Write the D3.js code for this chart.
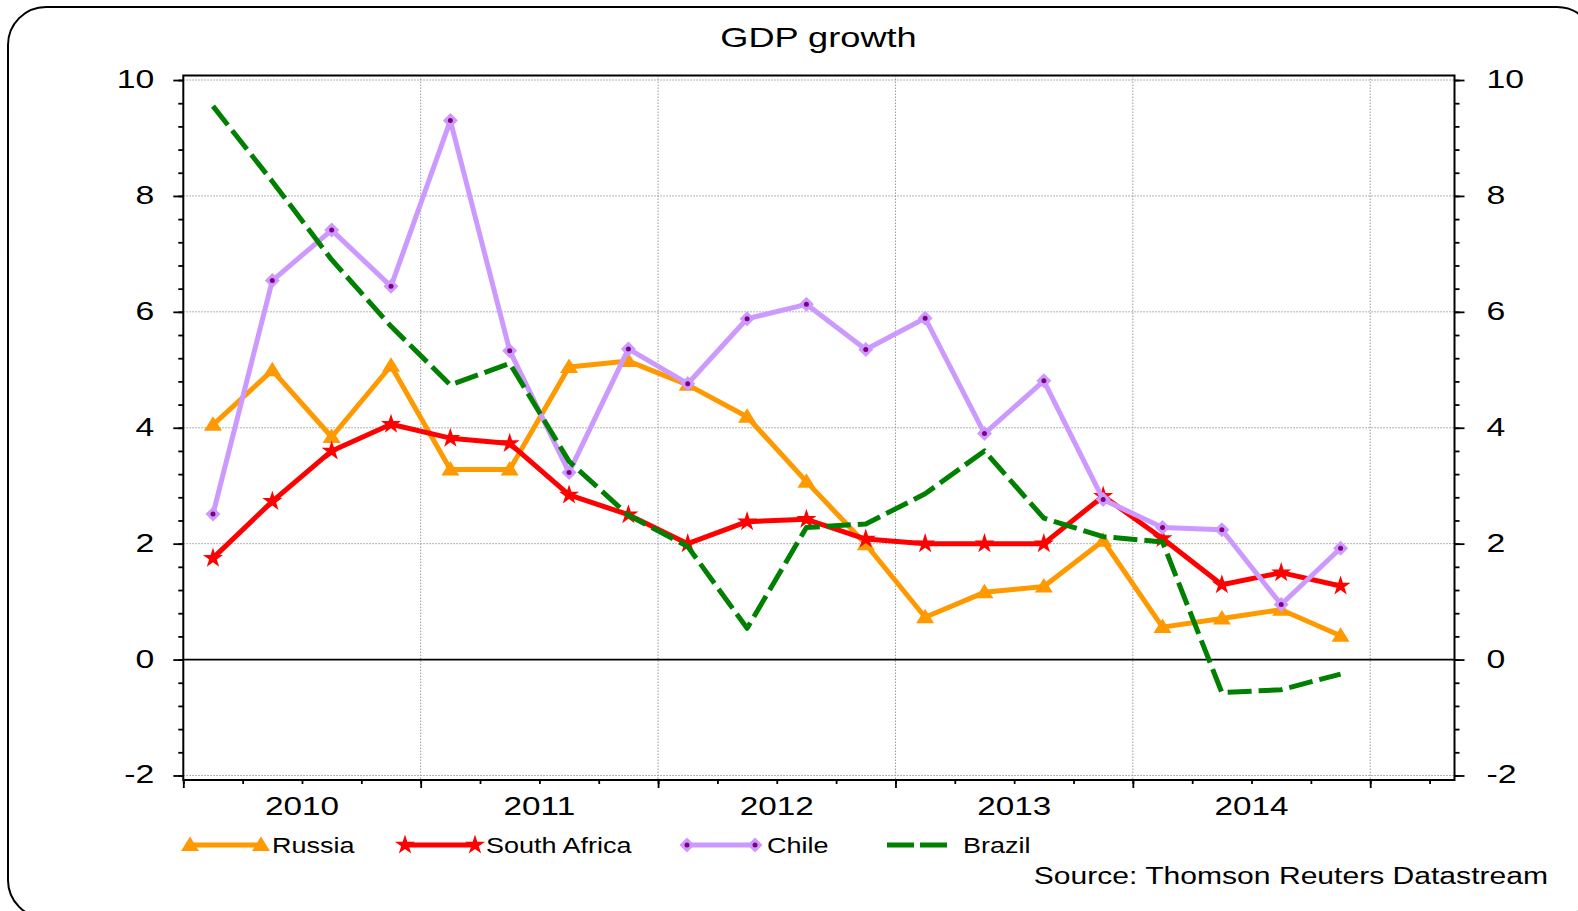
<!DOCTYPE html>
<html>
<head>
<meta charset="utf-8">
<script src="https://cdn.jsdelivr.net/npm/d3@7"></script>
<style>
  html, body { margin: 0; padding: 0; background: #fff; }
  svg { display: block; }
  text { font-family: "Liberation Sans", Arial, sans-serif; fill: #000; }
</style>
</head>
<body>
<svg id="chart" width="1578" height="911"></svg>
<script>
// ---------------- data ----------------
const quarters = ["2010Q1","2010Q2","2010Q3","2010Q4","2011Q1","2011Q2","2011Q3","2011Q4",
                  "2012Q1","2012Q2","2012Q3","2012Q4","2013Q1","2013Q2","2013Q3","2013Q4",
                  "2014Q1","2014Q2","2014Q3","2014Q4"];
const russia      = [4.05, 4.99, 3.84, 5.07, 3.28, 3.28, 5.05, 5.15, 4.74, 4.19, 3.07, 1.99, 0.73, 1.16, 1.26, 2.05, 0.56, 0.71, 0.86, 0.41];
const southAfrica = [1.75, 2.73, 3.60, 4.06, 3.82, 3.73, 2.84, 2.50, 2.00, 2.38, 2.42, 2.08, 2.00, 2.00, 2.00, 2.82, 2.09, 1.29, 1.50, 1.27];
const chile       = [2.51, 6.54, 7.41, 6.44, 9.30, 5.33, 3.23, 5.36, 4.76, 5.88, 6.13, 5.35, 5.89, 3.90, 4.81, 2.76, 2.28, 2.24, 0.95, 1.92];
const brazil      = [9.55, 8.25, 6.90, 5.75, 4.74, 5.11, 3.42, 2.49, 1.95, 0.54, 2.28, 2.34, 2.86, 3.60, 2.44, 2.12, 2.03, -0.57, -0.52, -0.25];
const seriesNames = ["Russia", "South Africa", "Chile", "Brazil"];
const yTicks = [-2, 0, 2, 4, 6, 8, 10];
const yearLabels = ["2010", "2011", "2012", "2013", "2014"];
const titleText = "GDP growth";
const sourceText = "Source: Thomson Reuters Datastream";

// ---------------- layout ----------------
const svg = d3.select("#chart");
const pLeft = 183.3, pRight = 1454.5, pTop = 75.5, pBottom = 780;
const x = d3.scaleLinear().domain([2010, 2015.355]).range([pLeft, pRight]);
const y = d3.scaleLinear().domain([-2.078, 10.078]).range([pBottom, pTop]);
const qx = q => { const yr = +q.slice(0, 4), qq = +q.slice(5); return x(yr + (qq - 0.5) / 4); };

const colors = { "Russia": "#FF9900", "South Africa": "#FF0000", "Chile": "#CC99FF", "Brazil": "#008000" };

function label(g, tx, ty, str, size, anchor, sx) {
  return g.append("text")
    .attr("transform", `translate(${tx},${ty}) scale(${sx},1)`)
    .attr("text-anchor", anchor)
    .attr("font-size", size)
    .text(str);
}

// outer rounded border
svg.append("rect").attr("x", 8).attr("y", 7).attr("width", 1587).attr("height", 911)
  .attr("rx", 38).attr("ry", 38).attr("fill", "none").attr("stroke", "#000").attr("stroke-width", 2);

// title
label(svg, 818.5, 47, titleText, 28.5, "middle", 1.27);

// grid
const grid = svg.append("g");
yTicks.filter(v => v !== 0).forEach(v => {
  grid.append("line").attr("x1", pLeft).attr("x2", pRight).attr("y1", y(v)).attr("y2", y(v))
    .attr("stroke", "#9a9a9a").attr("stroke-width", 1).attr("stroke-dasharray", "1.5,1.5");
});
d3.range(2011, 2016).forEach(yr => {
  grid.append("line").attr("x1", x(yr)).attr("x2", x(yr)).attr("y1", pTop).attr("y2", pBottom)
    .attr("stroke", "#9a9a9a").attr("stroke-width", 1).attr("stroke-dasharray", "1.5,1.5");
});
// zero line
svg.append("line").attr("x1", pLeft).attr("x2", pRight).attr("y1", y(0)).attr("y2", y(0))
  .attr("stroke", "#000").attr("stroke-width", 1.8);

// y axes with minor ticks
const minorY = d3.range(-2, 10.001, 0.4).map(v => +v.toFixed(2));
const gL = svg.append("g").attr("transform", `translate(${pLeft},0)`).call(d3.axisLeft(y).tickValues(minorY).tickSize(5).tickFormat(""));
const gR = svg.append("g").attr("transform", `translate(${pRight},0)`).call(d3.axisRight(y).tickValues(minorY).tickSize(5).tickFormat(""));
const gLM = svg.append("g").attr("transform", `translate(${pLeft},0)`).call(d3.axisLeft(y).tickValues(yTicks).tickSize(10).tickFormat(""));
const gRM = svg.append("g").attr("transform", `translate(${pRight},0)`).call(d3.axisRight(y).tickValues(yTicks).tickSize(10).tickFormat(""));
[gL, gR, gLM, gRM].forEach(g => {
  g.select(".domain").remove();
  g.selectAll(".tick line").attr("stroke", "#000").attr("stroke-width", 1.8);
});
yTicks.forEach(v => {
  label(svg, pLeft - 29, y(v) + 8, String(v), 26, "end", 1.3);
  label(svg, pRight + 32, y(v) + 8, String(v), 26, "start", 1.3);
});

// x axis ticks
const minorX = d3.range(0, 22).map(i => 2010 + i / 4).filter(v => v <= 2015.355);
const gX = svg.append("g").attr("transform", `translate(0,${pBottom})`)
  .call(d3.axisBottom(x).tickValues(minorX).tickSize(4).tickFormat(""));
const gXM = svg.append("g").attr("transform", `translate(0,${pBottom})`)
  .call(d3.axisBottom(x).tickValues(d3.range(2010, 2016)).tickSize(8).tickFormat(""));
[gX, gXM].forEach(g => {
  g.select(".domain").remove();
  g.selectAll(".tick line").attr("stroke", "#000").attr("stroke-width", 1.8);
});
yearLabels.forEach(yl => {
  label(svg, x(+yl + 0.5), 815, yl, 26, "middle", 1.28);
});

// frame
svg.append("rect").attr("x", pLeft).attr("y", pTop).attr("width", pRight - pLeft).attr("height", pBottom - pTop)
  .attr("fill", "none").attr("stroke", "#000").attr("stroke-width", 2);

// ---------------- series ----------------
const line = d3.line().x((d, i) => qx(quarters[i])).y(d => y(d));
const plot = svg.append("g");

const triPath = "M0,-8.5L9,6L-9,6Z";
const diamondPath = "M0,-7.5L7.5,0L0,7.5L-7.5,0Z";
const starPath = d3.symbol(d3.symbolStar, 125)();

function drawMarker(g, name, cx, cy) {
  const c = colors[name];
  if (name === "Russia") {
    g.append("path").attr("d", triPath).attr("transform", `translate(${cx},${cy})`).attr("fill", c);
  } else if (name === "South Africa") {
    g.append("path").attr("d", starPath).attr("transform", `translate(${cx},${cy})`).attr("fill", c);
  } else if (name === "Chile") {
    g.append("path").attr("d", diamondPath).attr("transform", `translate(${cx},${cy})`).attr("fill", c);
    g.append("circle").attr("cx", cx).attr("cy", cy).attr("r", 2.5).attr("fill", "#800080");
  }
}

const dataMap = { "Russia": russia, "South Africa": southAfrica, "Chile": chile, "Brazil": brazil };
seriesNames.forEach(name => {
  const vals = dataMap[name];
  const p = plot.append("path").datum(vals).attr("d", line)
    .attr("fill", "none").attr("stroke", colors[name]).attr("stroke-width", 5)
    .attr("stroke-linejoin", "round");
  if (name === "Brazil") p.attr("stroke-dasharray", "24,7").attr("stroke-linecap", "butt");
  const mg = plot.append("g");
  vals.forEach((v, i) => drawMarker(mg, name, qx(quarters[i]), y(v)));
});

// ---------------- legend ----------------
const legendY = 845;
const legendPos = [
  { x1: 190, x2: 261, tx: 272 },
  { x1: 405, x2: 475, tx: 486 },
  { x1: 687, x2: 755, tx: 767 },
  { x1: 887, x2: 947, tx: 963 }
];
const lg = svg.append("g");
seriesNames.forEach((name, i) => {
  const p = legendPos[i];
  const ln = lg.append("line").attr("x1", p.x1).attr("x2", p.x2).attr("y1", legendY).attr("y2", legendY)
    .attr("stroke", colors[name]).attr("stroke-width", 5);
  if (name === "Brazil") ln.attr("stroke-dasharray", "27,6");
  drawMarker(lg, name, p.x1, legendY);
  drawMarker(lg, name, p.x2, legendY);
  label(lg, p.tx, legendY + 8, name, 22.5, "start", 1.2);
});

// source
label(svg, 1548, 884, sourceText, 23.5, "end", 1.28);
</script>
</body>
</html>
